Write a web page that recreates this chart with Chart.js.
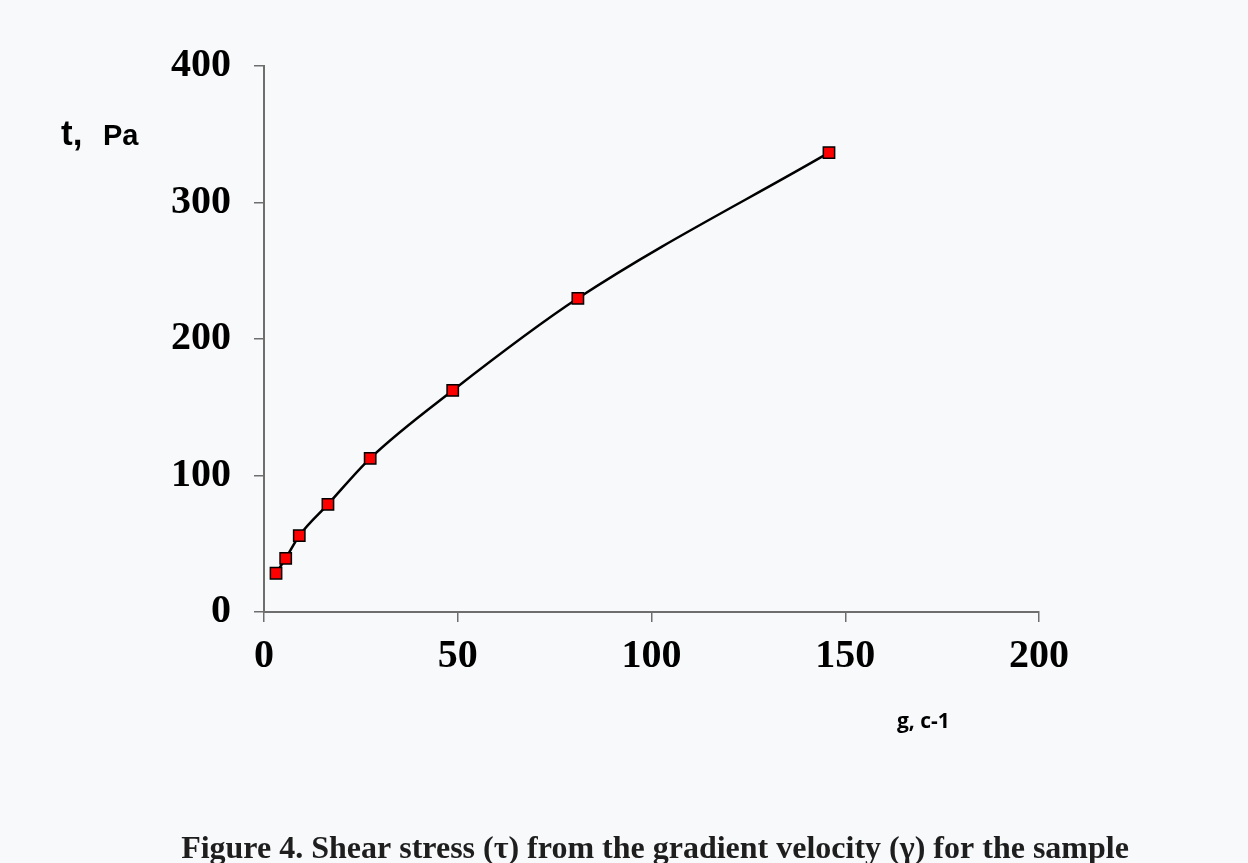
<!DOCTYPE html>
<html>
<head>
<meta charset="utf-8">
<script src="https://cdn.jsdelivr.net/npm/chart.js@4.4.1/dist/chart.umd.min.js"></script>
<style>
  html, body { margin: 0; padding: 0; background: #f8f9fb; }
  #wrap { position: relative; width: 1248px; height: 863px; }
</style>
</head>
<body>
<div id="wrap"><canvas id="chart" width="1248" height="863"></canvas></div>
<script>
const shearRate = [3.1, 5.6, 9.1, 16.5, 27.4, 48.7, 81.0, 145.8];
const shearStress = [28.4, 39.3, 55.9, 78.9, 112.6, 162.3, 229.8, 336.5];
const xTicks = [0, 50, 100, 150, 200];
const yTicks = [0, 100, 200, 300, 400];

const axisColor = '#6e6e6e';
const tickFont = { family: '"Liberation Serif", "Times New Roman", serif', size: 40, weight: 'bold' };

// axis titles and caption are plain text on the canvas
const titles = {
  id: 'titles',
  afterDraw(chart) {
    const ctx = chart.ctx;
    ctx.save();
    ctx.fillStyle = '#000';
    ctx.textBaseline = 'alphabetic';
    ctx.textAlign = 'left';
    ctx.font = 'bold 35px "Liberation Sans", Arial, sans-serif';
    ctx.fillText('t,', 61, 145);
    ctx.font = 'bold 29px "Liberation Sans", Arial, sans-serif';
    ctx.fillText('Pa', 103, 145);
    ctx.font = 'bold 21px "Open Sans", sans-serif';
    ctx.fillText('g, c-1', 897, 728);
    ctx.textAlign = 'center';
    ctx.fillStyle = '#1e1e1e';
    ctx.font = 'bold 32px "Liberation Serif", "Times New Roman", serif';
    ctx.fillText('Figure 4. Shear stress (\u03c4) from the gradient velocity (\u03b3) for the sample', 655, 858);
    ctx.restore();
  }
};

new Chart(document.getElementById('chart'), {
  type: 'line',
  data: {
    datasets: [{
      data: shearRate.map((x, i) => ({ x, y: shearStress[i] })),
      borderColor: '#000',
      borderWidth: 2.5,
      tension: 0.4,
      cubicInterpolationMode: 'monotone',
      pointStyle: 'rect',
      pointRadius: 8,
      pointBackgroundColor: '#ff0000',
      pointBorderColor: '#000',
      pointBorderWidth: 1.5,
      fill: false,
    }],
  },
  options: {
    responsive: false,
    animation: false,
    layout: { padding: { top: 66, right: 209, left: 0, bottom: 0 } },
    plugins: {
      legend: { display: false },
      tooltip: { enabled: false },
    },
    scales: {
      x: {
        type: 'linear',
        min: 0,
        max: 200,
        afterBuildTicks: (scale) => { scale.ticks = xTicks.map((v) => ({ value: v })); },
        afterFit: (scale) => { scale.height = 863 - 612; },
        ticks: { font: tickFont, color: '#000', padding: 11, maxRotation: 0 },
        grid: { display: true, drawOnChartArea: false, drawTicks: true, tickLength: 10, color: axisColor, lineWidth: 1.5 },
        border: { display: true, color: axisColor, width: 2 },
      },
      y: {
        min: 0,
        max: 400,
        afterBuildTicks: (scale) => { scale.ticks = yTicks.map((v) => ({ value: v })); },
        afterFit: (scale) => { scale.width = 264; },
        ticks: { font: tickFont, color: '#000', padding: 23 },
        grid: { display: true, drawOnChartArea: false, drawTicks: true, tickLength: 10, color: axisColor, lineWidth: 1.5 },
        border: { display: true, color: axisColor, width: 2 },
      },
    },
  },
  plugins: [titles],
});
</script>
</body>
</html>
